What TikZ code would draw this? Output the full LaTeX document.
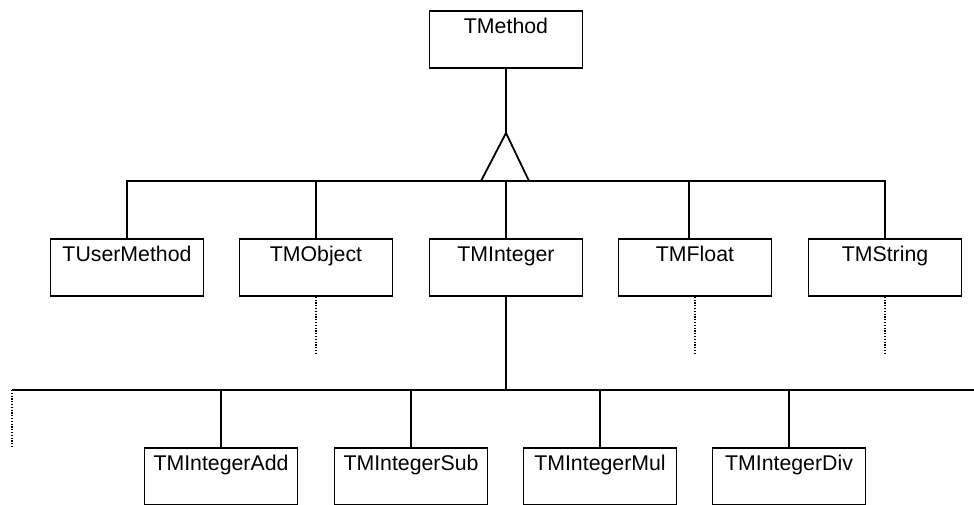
\documentclass[tikz,border=0pt]{standalone}
\usepackage{fontspec}
\setmainfont{Liberation Sans}
\begin{document}
\begin{tikzpicture}[x=1pt,y=-1pt,
  classbox/.style={draw, line width=1.8pt, inner sep=0pt, minimum width=153pt,
    text height=23pt, text depth=34pt, font=\fontsize{21.3}{24}\selectfont},
  link/.style={line width=1.8pt},
  more/.style={line width=1.6pt, dash pattern=on 1.2pt off 1.6pt}]
\useasboundingbox (0,0) rectangle (974,505);

% root class
\node[classbox, anchor=north] (m) at (506,10) {TMethod};

% first level subclasses
\node[classbox, anchor=north] (um)  at (127,238) {TUserMethod};
\node[classbox, anchor=north] (obj) at (316,238) {TMObject};
\node[classbox, anchor=north] (int) at (506,238) {TMInteger};
\node[classbox, anchor=north] (flt) at (695,238) {TMFloat};
\node[classbox, anchor=north] (str) at (885,238) {TMString};

% second level subclasses
\node[classbox, anchor=north] (add) at (221,447) {TMIntegerAdd};
\node[classbox, anchor=north] (sub) at (411,447) {TMIntegerSub};
\node[classbox, anchor=north] (mul) at (600,447) {TMIntegerMul};
\node[classbox, anchor=north] (div) at (789,447) {TMIntegerDiv};

% inheritance triangle and upper bus
\coordinate (apex) at (506,133);
\coordinate (bus1) at (506,181);
\coordinate (bl) at (481,181);
\coordinate (br) at (529,181);
\draw[link] (m.south) -- (apex);
\draw[link, line join=miter] (bl) -- (apex) -- (br);
\draw[link] (um.north) |- (bus1) -| (str.north);
\draw[link] (obj.north) -- (obj.north |- bus1);
\draw[link] (int.north) -- (int.north |- bus1);
\draw[link] (689,238) -- (689,181);

% lower bus
\coordinate (bus2) at (506,390);
\coordinate (lend) at (12,390);
\coordinate (rend) at (974,390);
\coordinate (ldot) at (12,447);
\draw[link] (int.south) -- (bus2);
\draw[link] (lend) -- (rend);
\foreach \c in {add,sub,mul,div}
  \draw[link] (\c.north) -- (\c.north |- bus2);

% further subclasses not shown
\coordinate (objd) at (316,353);
\coordinate (fltd) at (695,353);
\coordinate (strd) at (885,353);
\draw[more] (obj.south) -- (objd);
\draw[more] (flt.south) -- (fltd);
\draw[more] (str.south) -- (strd);
\draw[more] (lend) -- (ldot);
\end{tikzpicture}
\end{document}
